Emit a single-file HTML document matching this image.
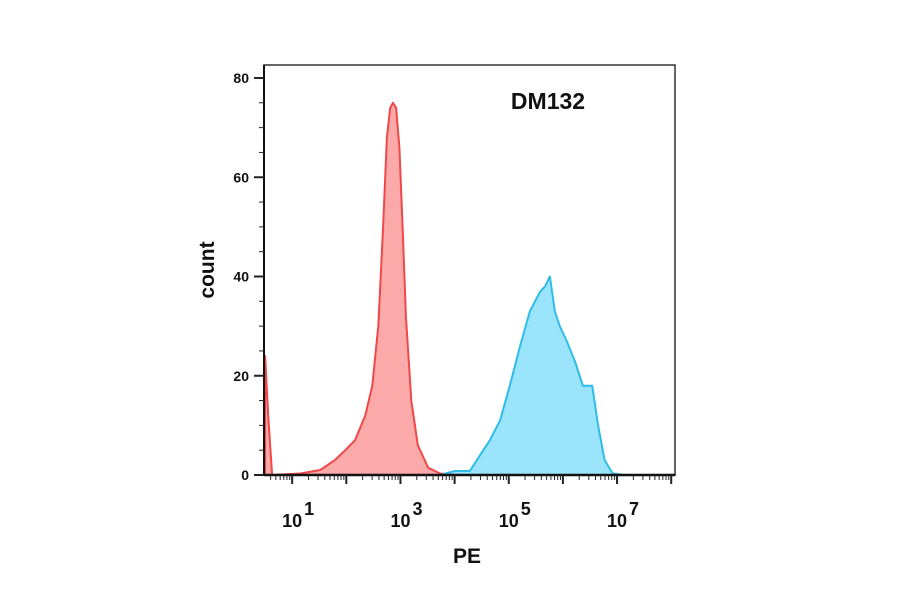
<!DOCTYPE html>
<html><head><meta charset="utf-8"><style>
html,body{margin:0;padding:0;background:#fff;}
svg{display:block;font-family:"Liberation Sans",Arial,sans-serif;}
</style></head><body>
<svg id="chart" width="900" height="594" viewBox="0 0 900 594">
<g id="plot"></g>
</svg>
<script>
const redLogX=[0.50,0.557,0.63,1.15,1.52,1.79,1.98,2.16,2.35,2.48,2.59,2.68,2.75,2.81,2.86,2.92,2.98,3.04,3.10,3.20,3.32,3.51,3.73,4.1,5,6,7,8.07];
const redCounts=[24,12,0,0.3,1,3,5,7,12,18,30,50,68,74,75,74,66,50,32,15,6,1.5,0.3,0,0,0,0,0];
const blueLogX=[0.5,3.5,3.73,4.0,4.28,4.47,4.65,4.84,5.02,5.21,5.39,5.58,5.67,5.76,5.85,5.94,6.07,6.22,6.37,6.54,6.65,6.77,6.92,7.14,8.07];
const blueCounts=[0,0,0,0.8,0.8,4,7,11,18,26,33,37,38,40,33,30,27,23,18,18,10,3,0.3,0,0];
const yTicks=[0,20,40,60,80];
const xTickExps=[1,3,5,7];

const L=264,R=675,T=65,B=475;
const xMin=0.48,xMax=8.07,yMin=0,yMax=80;
const y0=475,y80=78;
const sx=v=>L+(v-xMin)/(xMax-xMin)*(R-L);
const sy=v=>y0+(v-yMin)/(yMax-yMin)*(y80-y0);
const NS="http://www.w3.org/2000/svg";
const g=document.getElementById('plot');
function mk(tag,attrs){const e=document.createElementNS(NS,tag);for(const k in attrs)e.setAttribute(k,attrs[k]);g.appendChild(e);return e;}

function series(xs,ys,fill,stroke,name){
  let d='M'+sx(xs[0])+','+sy(0);
  for(let i=0;i<xs.length;i++)d+=' L'+sx(xs[i]).toFixed(1)+','+sy(ys[i]).toFixed(1);
  d+=' L'+sx(xs[xs.length-1])+','+sy(0)+' Z';
  const p=mk('path',{d:d,fill:fill,stroke:stroke,'stroke-width':2,'stroke-linejoin':'round'});
  
  
}
series(redLogX,redCounts,'rgba(250,140,140,0.75)','#f04848','control-histogram');
series(blueLogX,blueCounts,'rgba(120,220,250,0.75)','#30bce8','dm132-histogram');

const frame=mk('rect',{x:L,y:T,width:R-L,height:B-T,fill:'none',stroke:'#333','stroke-width':1.5});


const xl=mk('line',{x1:L,y1:B,x2:R,y2:B,stroke:'#111','stroke-width':2.5});


const yl=mk('line',{x1:L,y1:T,x2:L,y2:B,stroke:'#111','stroke-width':2});



for(let v=0;v<=80;v+=5){
  const major=v%20===0;
  const t=mk('line',{x1:L-(major?10:5),x2:L,y1:sy(v),y2:sy(v),stroke:'#222','stroke-width':major?2:1});
  
  
}
yTicks.forEach(v=>{
  const t=mk('text',{x:L-15,y:sy(v)+5,'text-anchor':'end','font-size':14,'font-weight':'bold',fill:'#111'});
  t.textContent=v;
  
  
});
for(let e=0;e<=8;e++){
  for(let m=1;m<10;m++){
    const lv=e+Math.log10(m);
    if(lv<xMin||lv>xMax)continue;
    const major=m===1;
    const t=mk('line',{x1:sx(lv),x2:sx(lv),y1:B,y2:B+(major?9:5),stroke:'#222','stroke-width':major?2:1});
    
    
  }
}
xTickExps.forEach(e=>{
  const t=mk('text',{x:sx(e),y:527,'text-anchor':'middle','font-size':18,'font-weight':'bold',fill:'#111'});
  t.textContent='10';
  
  
  const s=mk('text',{x:sx(e)+17,y:515,'text-anchor':'middle','font-size':18,'font-weight':'bold',fill:'#111'});
  s.textContent=e;
  
  
});
const xt=mk('text',{x:467,y:563,'text-anchor':'middle','font-size':21,'font-weight':'bold',fill:'#111'});
xt.textContent='PE';


const yt=mk('text',{x:0,y:0,transform:'translate(214,270) rotate(-90)','text-anchor':'middle','font-size':21,'font-weight':'bold',fill:'#111'});
yt.textContent='count';


const lab=mk('text',{x:548,y:109,'text-anchor':'middle','font-size':23,'font-weight':'bold',fill:'#111'});
lab.textContent='DM132';


</script>
</body></html>
